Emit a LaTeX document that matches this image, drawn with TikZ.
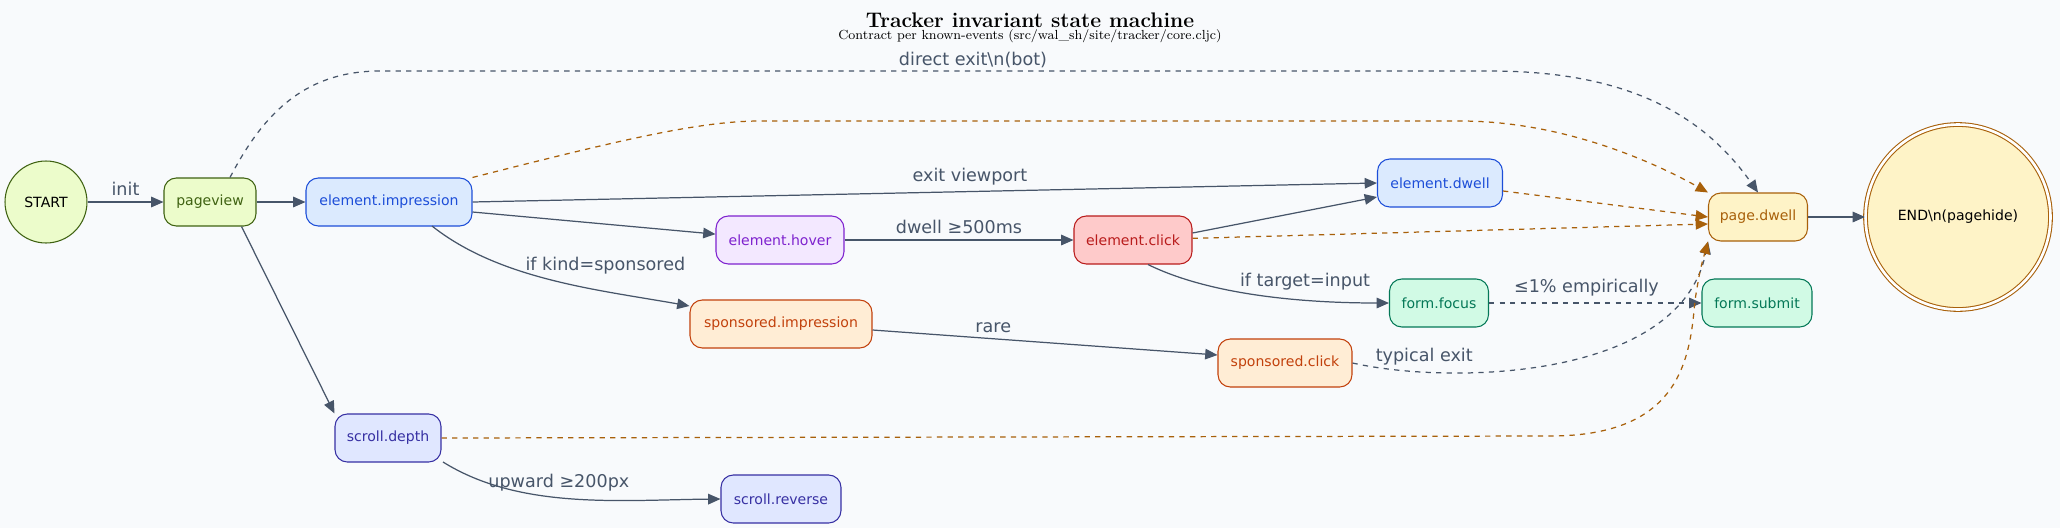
\documentclass[tikz,border=0pt]{standalone}
\usepackage{fontspec}
\newfontfamily\dejavu{DejaVu Sans}
\usetikzlibrary{arrows.meta,positioning}
\definecolor{bg}{HTML}{F8FAFC}
\definecolor{edge}{HTML}{475569}
\definecolor{amb}{HTML}{A8600A}
\definecolor{lime}{HTML}{3F6212}\definecolor{limef}{HTML}{ECFCCB}
\definecolor{blu}{HTML}{1D4ED8}\definecolor{bluf}{HTML}{DBEAFE}
\definecolor{vio}{HTML}{7E22CE}\definecolor{viof}{HTML}{F3E8FF}
\definecolor{org}{HTML}{C2410C}\definecolor{orgf}{HTML}{FFEDD5}
\definecolor{ind}{HTML}{3730A3}\definecolor{indf}{HTML}{E0E7FF}
\definecolor{rd}{HTML}{B91C1C}\definecolor{rdf}{HTML}{FECACA}
\definecolor{grn}{HTML}{047857}\definecolor{grnf}{HTML}{D1FAE5}
\definecolor{ylwf}{HTML}{FEF3C7}
\tikzset{
  state/.style={draw, rounded corners=7pt, minimum height=0.96cm, font=\dejavu\fontsize{8}{9}\selectfont, line width=0.6pt},
  tr/.style={draw=edge, line width=0.7pt, -{Triangle[length=7pt,width=6pt]}},
  ex/.style={draw=amb, line width=0.7pt, dashed, -{Triangle[length=7pt,width=6pt]}},
  gx/.style={draw=edge, line width=0.7pt, dashed, -{Triangle[length=7pt,width=6pt]}},
  lab/.style={text=edge, font=\dejavu\fontsize{10}{11}\selectfont},
}
\begin{document}
\begin{tikzpicture}[x=0.02cm,y=-0.02cm]
\fill[bg] (0,0) rectangle (2060,528);
\useasboundingbox (0,0) rectangle (2060,528);
\node[font=\bfseries\fontsize{12}{13}\selectfont] (title) at (1030,20) {Tracker invariant state machine};
\node[font=\fontsize{7.5}{8}\selectfont] (sub) at (1030,36) {Contract per known-events (src/wal\_sh/site/tracker/core.cljc)};

\node[circle, draw=lime, fill=limef, minimum size=1.64cm, font=\dejavu\fontsize{8}{9}\selectfont, line width=0.6pt] (start) at (46,202) {START};
\node[state, draw=lime, fill=limef, text=lime, minimum width=1.84cm] (pv) at (210,202) {pageview};
\node[state, draw=blu, fill=bluf, text=blu, minimum width=3.32cm] (imp) at (389,202) {element.impression};
\node[state, draw=vio, fill=viof, text=vio, minimum width=2.56cm] (hov) at (780,240) {element.hover};
\node[state, draw=org, fill=orgf, text=org, minimum width=3.64cm] (simp) at (781,324) {sponsored.impression};
\node[state, draw=ind, fill=indf, text=ind, minimum width=2.12cm] (sd) at (388,438) {scroll.depth};
\node[state, draw=ind, fill=indf, text=ind, minimum width=2.4cm] (sr) at (781,499) {scroll.reverse};
\node[state, draw=blu, fill=bluf, text=blu, minimum width=2.5cm] (dw) at (1440,183) {element.dwell};
\node[state, draw=rd, fill=rdf, text=rd, minimum width=2.36cm] (clk) at (1133,240) {element.click};
\node[state, draw=grn, fill=grnf, text=grn, minimum width=1.98cm] (ff) at (1439,303) {form.focus};
\node[state, draw=org, fill=orgf, text=org, minimum width=2.68cm] (sc) at (1285,363) {sponsored.click};
\node[state, draw=amb, fill=ylwf, text=amb, minimum width=1.98cm] (pd) at (1758,217) {page.dwell};
\node[state, draw=grn, fill=grnf, text=grn, minimum width=2.2cm] (fs) at (1757,303) {form.submit};
\node[circle, double, double distance=1.5pt, draw=amb, fill=ylwf, minimum size=3.7cm, font=\dejavu\fontsize{8}{9}\selectfont, line width=0.6pt] (end) at (1958,217) {END\textbackslash n(pagehide)};

\draw[tr] (start) -- node[lab, above] {init} (pv);
\draw[tr] (pv) -- (imp);
\draw[tr] (pv.south east) ++(-15,0) -- (sd.north west);
\draw[gx] (pv.north) ++(20,0) .. controls (260,120) and (300,71) .. (380,71) -- (1490,71)
  .. controls (1620,71) and (1700,110) .. (pd.north);
\node[lab] (lbot) at (973,60) {direct exit\textbackslash n(bot)};
\draw[ex] (imp.north east) .. controls (620,140) and (700,121) .. (760,121) -- (1460,121)
  .. controls (1560,121) and (1650,160) .. (pd.north west);
\draw[tr] (imp.east) -- node[lab, above, pos=0.55] {exit viewport} (dw.west);
\draw[tr] (imp.east |- 0,212) -- (hov);
\draw[tr] (432,226) .. controls (500,280) and (600,290) .. (simp.west |- 0,306) node[lab, pos=0.5, above, xshift=30] {if kind=sponsored};
\draw[tr] (hov) -- node[lab, above] {dwell ≥500ms} (clk);
\draw[tr] (clk.east |- 0,233) -- (dw.west |- 0,197);
\draw[ex] (dw) -- (pd.west);
\draw[ex] (clk) -- (pd.west |- 0,224);
\draw[tr] (clk.south) ++(15,0) .. controls (1220,300) and (1330,303) .. (ff.west) node[lab, pos=0.5, above, xshift=18] {if target=input};
\draw[gx] (ff) -- node[lab, above, xshift=-5] {≤1\% empirically} (fs);
\draw[tr] (simp.east |- 0,330) -- node[lab, above, pos=0.35] {rare} (sc.west |- 0,355);
\draw[gx] (sc.east) .. controls (1450,385) and (1680,380) .. (pd.south west) node[lab, pos=0.2, above] {typical exit};
\draw[ex] (sd.east) -- (1550,436) .. controls (1680,436) and (1690,360) .. (1695,300) .. controls (1700,270) .. (pd.south west);
\draw[tr] (443,462) .. controls (520,510) and (620,500) .. (sr.west) node[lab, pos=0.45, above] {upward ≥200px};
\draw[tr] (pd) -- (end);
\end{tikzpicture}
\end{document}
